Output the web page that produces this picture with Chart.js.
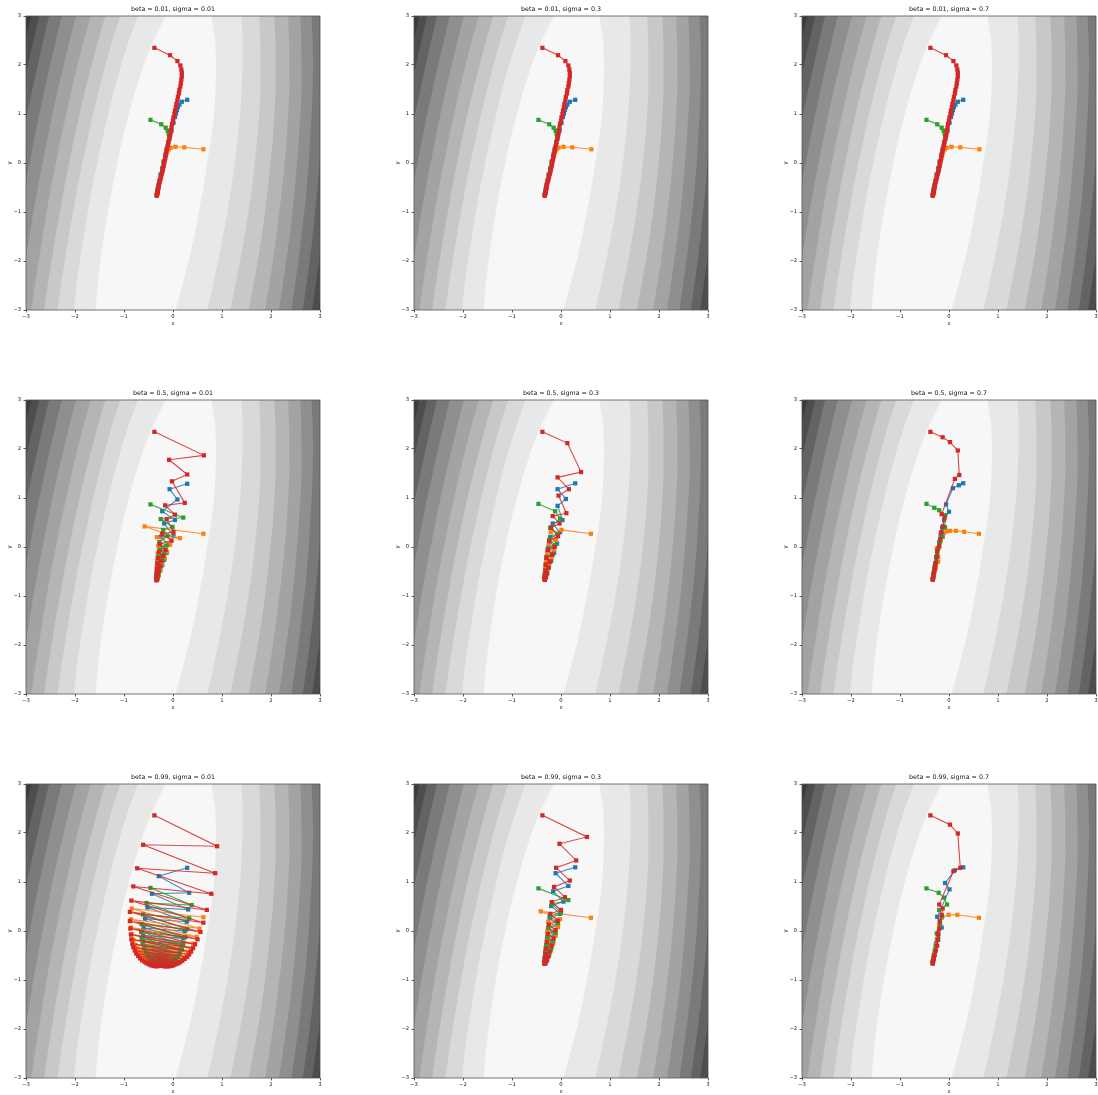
<!DOCTYPE html>
<html>
<head>
<meta charset="utf-8">
<script src="https://cdn.jsdelivr.net/npm/chart.js@4.4.1/dist/chart.umd.min.js"></script>
<style>
  html, body { margin: 0; padding: 0; background: #ffffff; overflow: hidden; width: 1098px; height: 1095px; }
  canvas { position: absolute; }
</style>
</head>
<body>
<script>
// ---- axis ticks ----
const tickValues = [-3, -2, -1, 0, 1, 2, 3];
const tickLabels = ['\u22123', '\u22122', '\u22121', '0', '1', '2', '3'];

// ---- panel titles ----
const betas = ['0.01', '0.5', '0.99'];
const sigmas = ['0.01', '0.3', '0.7'];

// ---- filled contour levels of the loss surface ----
// each boundary is sampled at the y values in bandY; x may run past the frame
const bandY = [3, 2.5, 2, 1.5, 1, 0.5, 0, -0.5, -1, -1.5, -2, -2.5, -3];
const levelColors = ['#f7f7f7', '#e8e8e8', '#d9d9d9', '#c8c8c8', '#b5b5b5', '#a3a3a3',
                     '#8f8f8f', '#7a7a7a', '#636363', '#4d4d4d', '#3b3b3b', '#303030'];
const leftBounds = [
  [-0.15, -0.40, -0.60, -0.76, -0.90, -1.03, -1.14, -1.24, -1.33, -1.41, -1.48, -1.54, -1.58],
  [-0.72, -0.90, -1.06, -1.20, -1.32, -1.44, -1.55, -1.65, -1.74, -1.82, -1.90, -1.97, -2.02],
  [-1.08, -1.24, -1.38, -1.51, -1.63, -1.74, -1.85, -1.95, -2.04, -2.13, -2.21, -2.29, -2.36],
  [-1.38, -1.53, -1.66, -1.79, -1.91, -2.02, -2.12, -2.22, -2.31, -2.40, -2.48, -2.56, -2.63],
  [-1.68, -1.82, -1.95, -2.07, -2.18, -2.29, -2.39, -2.49, -2.58, -2.66, -2.74, -2.82, -2.89],
  [-1.98, -2.11, -2.23, -2.35, -2.46, -2.56, -2.66, -2.76, -2.85, -2.93, -3.01, -3.09, -3.16],
  [-2.27, -2.39, -2.51, -2.62, -2.73, -2.83, -2.93, -3.02, -3.11, -3.20, -3.28, -3.36, -3.43],
  [-2.53, -2.65, -2.76, -2.87, -2.98, -3.08, -3.18, -3.27, -3.36, -3.45, -3.53, -3.61, -3.68],
  [-2.73, -2.85, -2.96, -3.07, -3.18, -3.28, -3.38, -3.47, -3.56, -3.65, -3.73, -3.81, -3.88],
  [-2.89, -3.01, -3.12, -3.23, -3.34, -3.44, -3.54, -3.63, -3.72, -3.81, -3.89, -3.97, -4.04]
];
const rightBounds = [
  [0.78, 0.86, 0.88, 0.87, 0.84, 0.78, 0.70, 0.62, 0.53, 0.43, 0.32, 0.19, 0.05],
  [1.40, 1.42, 1.42, 1.40, 1.37, 1.32, 1.26, 1.19, 1.11, 1.02, 0.92, 0.81, 0.70],
  [1.76, 1.78, 1.79, 1.78, 1.76, 1.72, 1.67, 1.61, 1.54, 1.46, 1.37, 1.27, 1.17],
  [2.07, 2.09, 2.10, 2.09, 2.07, 2.04, 1.99, 1.94, 1.88, 1.81, 1.73, 1.64, 1.55],
  [2.35, 2.37, 2.38, 2.37, 2.35, 2.32, 2.28, 2.23, 2.17, 2.11, 2.04, 1.96, 1.88],
  [2.60, 2.62, 2.63, 2.62, 2.60, 2.57, 2.53, 2.49, 2.44, 2.38, 2.31, 2.24, 2.16],
  [2.83, 2.85, 2.86, 2.85, 2.83, 2.80, 2.77, 2.73, 2.68, 2.62, 2.56, 2.49, 2.42],
  [3.04, 3.06, 3.07, 3.06, 3.05, 3.02, 2.99, 2.95, 2.90, 2.85, 2.79, 2.72, 2.65],
  [3.24, 3.26, 3.27, 3.26, 3.25, 3.22, 3.19, 3.15, 3.10, 3.04, 2.98, 2.91, 2.84],
  [3.43, 3.45, 3.46, 3.45, 3.44, 3.41, 3.37, 3.32, 3.26, 3.19, 3.12, 3.04, 2.97]
];

// ---- optimiser paths: beta = 0.01 (nearly identical for every sigma) ----
const blue_b001 = [[0.29,1.29],[0.18,1.25],[0.13,1.19],[0.10,1.14],[0.08,1.08],[0.06,1.01],[0.04,0.94],[0.01,0.82],[-0.03,0.66],[-0.07,0.50],[-0.11,0.34],[-0.15,0.18],[-0.19,0.03],[-0.22,-0.11],[-0.25,-0.24],[-0.27,-0.36],[-0.29,-0.46],[-0.31,-0.54],[-0.32,-0.60],[-0.33,-0.65]];
const orange_b001 = [[0.62,0.28],[0.23,0.32],[0.05,0.33],[-0.05,0.31],[-0.09,0.28],[-0.12,0.23],[-0.14,0.17],[-0.16,0.09],[-0.19,-0.03],[-0.22,-0.15],[-0.25,-0.27],[-0.27,-0.38],[-0.29,-0.47],[-0.31,-0.55],[-0.32,-0.61],[-0.33,-0.65]];
const green_b001 = [[-0.46,0.88],[-0.24,0.79],[-0.15,0.72],[-0.11,0.66],[-0.09,0.60],[-0.08,0.54],[-0.10,0.42],[-0.13,0.28],[-0.16,0.14],[-0.19,0.01],[-0.22,-0.12],[-0.25,-0.24],[-0.27,-0.35],[-0.29,-0.45],[-0.31,-0.53],[-0.32,-0.60],[-0.33,-0.65]];
const red_b001 = [[-0.38,2.35],[-0.06,2.20],[0.09,2.08],[0.15,1.99],[0.17,1.91],[0.18,1.84],[0.18,1.77],[0.17,1.70],[0.16,1.63],[0.15,1.56],[0.13,1.49],[0.12,1.42],[0.10,1.35],[0.09,1.28],[0.07,1.21],[0.06,1.14],[0.04,1.07],[0.03,1.00],[0.01,0.93],[0.00,0.86],[-0.02,0.80],[-0.03,0.73],[-0.04,0.67],[-0.05,0.61],[-0.06,0.55],[-0.08,0.49],[-0.09,0.43],[-0.10,0.37],[-0.12,0.31],[-0.13,0.26],[-0.14,0.20],[-0.15,0.15],[-0.16,0.10],[-0.17,0.05],[-0.18,0.00],[-0.19,-0.05],[-0.20,-0.09],[-0.21,-0.14],[-0.22,-0.18],[-0.23,-0.22],[-0.24,-0.26],[-0.25,-0.30],[-0.26,-0.34],[-0.27,-0.37],[-0.28,-0.41],[-0.29,-0.44],[-0.29,-0.47],[-0.30,-0.50],[-0.30,-0.53],[-0.31,-0.56],[-0.31,-0.58],[-0.32,-0.61],[-0.32,-0.63],[-0.33,-0.65],[-0.33,-0.67]];

// ---- beta = 0.5 ----
const blue_b05_s001 = [[0.29,1.29],[-0.07,1.18],[0.09,0.97],[-0.22,0.73],[0.04,0.55],[-0.18,0.48],[0.01,0.23],[-0.25,0.21],[-0.08,0.05],[-0.27,-0.02],[-0.13,-0.12],[-0.29,-0.17],[-0.18,-0.26],[-0.31,-0.30],[-0.22,-0.37],[-0.32,-0.41],[-0.26,-0.47],[-0.33,-0.51],[-0.29,-0.56],[-0.33,-0.60],[-0.31,-0.63],[-0.33,-0.66]];
const orange_b05_s001 = [[0.62,0.27],[-0.58,0.42],[0.14,0.18],[-0.33,0.20],[-0.06,0.05],[-0.30,0.02],[-0.12,-0.10],[-0.31,-0.14],[-0.17,-0.23],[-0.32,-0.28],[-0.22,-0.35],[-0.33,-0.40],[-0.26,-0.46],[-0.33,-0.51],[-0.29,-0.56],[-0.33,-0.60],[-0.31,-0.63],[-0.33,-0.66]];
const green_b05_s001 = [[-0.46,0.87],[0.21,0.60],[-0.25,0.57],[-0.01,0.41],[-0.20,0.35],[-0.11,0.23],[-0.28,0.10],[-0.13,0.03],[-0.27,-0.06],[-0.18,-0.14],[-0.30,-0.20],[-0.21,-0.27],[-0.31,-0.33],[-0.25,-0.39],[-0.32,-0.45],[-0.28,-0.50],[-0.33,-0.55],[-0.30,-0.59],[-0.33,-0.63],[-0.32,-0.66]];
const red_b05_s001 = [[-0.38,2.35],[0.63,1.87],[-0.08,1.78],[0.29,1.48],[-0.02,1.34],[0.24,0.90],[-0.16,0.85],[0.04,0.66],[-0.13,0.57],[0.01,0.31],[-0.22,0.27],[-0.03,0.13],[-0.27,0.06],[-0.15,-0.06],[-0.29,-0.10],[-0.20,-0.18],[-0.31,-0.23],[-0.24,-0.29],[-0.32,-0.34],[-0.27,-0.39],[-0.33,-0.44],[-0.29,-0.48],[-0.33,-0.52],[-0.31,-0.56],[-0.34,-0.59],[-0.32,-0.62],[-0.34,-0.64],[-0.33,-0.66],[-0.34,-0.68]];

const blue_b05_s03 = [[0.29,1.30],[-0.07,1.18],[0.10,0.98],[-0.07,0.84],[0.03,0.55],[-0.17,0.48],[-0.02,0.30],[-0.22,0.20],[-0.08,0.07],[-0.26,-0.01],[-0.14,-0.12],[-0.29,-0.19],[-0.20,-0.28],[-0.31,-0.34],[-0.25,-0.41],[-0.32,-0.47],[-0.28,-0.53],[-0.33,-0.58],[-0.31,-0.62],[-0.33,-0.66]];
const orange_b05_s03 = [[0.61,0.27],[0.01,0.35],[-0.21,0.30],[-0.10,0.15],[-0.25,0.06],[-0.14,-0.05],[-0.28,-0.12],[-0.19,-0.21],[-0.30,-0.28],[-0.24,-0.36],[-0.32,-0.42],[-0.28,-0.48],[-0.33,-0.54],[-0.30,-0.59],[-0.33,-0.63],[-0.33,-0.66]];
const green_b05_s03 = [[-0.46,0.88],[-0.12,0.73],[-0.02,0.58],[-0.22,0.39],[-0.07,0.26],[-0.24,0.15],[-0.12,0.04],[-0.27,-0.05],[-0.17,-0.15],[-0.29,-0.22],[-0.22,-0.30],[-0.31,-0.37],[-0.26,-0.43],[-0.32,-0.49],[-0.29,-0.55],[-0.33,-0.59],[-0.32,-0.63],[-0.33,-0.66]];
const red_b05_s03 = [[-0.38,2.35],[0.13,2.12],[0.41,1.53],[-0.07,1.42],[0.16,1.18],[-0.05,1.05],[0.11,0.69],[-0.17,0.63],[-0.03,0.48],[-0.20,0.40],[-0.06,0.22],[-0.24,0.12],[-0.13,0.00],[-0.27,-0.06],[-0.18,-0.16],[-0.30,-0.22],[-0.23,-0.30],[-0.31,-0.36],[-0.26,-0.42],[-0.32,-0.48],[-0.29,-0.53],[-0.33,-0.57],[-0.31,-0.61],[-0.34,-0.64],[-0.33,-0.67]];

const blue_b05_s07 = [[0.29,1.30],[0.20,1.26],[0.08,1.20],[-0.06,0.87],[0.00,0.72],[-0.10,0.55],[-0.14,0.40],[-0.17,0.25],[-0.20,0.10],[-0.23,-0.05],[-0.26,-0.20],[-0.28,-0.33],[-0.30,-0.44],[-0.31,-0.53],[-0.32,-0.60],[-0.33,-0.65]];
const orange_b05_s07 = [[0.61,0.27],[0.31,0.31],[0.14,0.33],[0.02,0.33],[-0.05,0.32],[-0.10,0.29],[-0.14,0.22],[-0.17,0.12],[-0.20,0.00],[-0.25,-0.03],[-0.22,-0.20],[-0.22,-0.30],[-0.27,-0.42],[-0.30,-0.52],[-0.32,-0.59],[-0.33,-0.65]];
const green_b05_s07 = [[-0.46,0.88],[-0.30,0.80],[-0.20,0.75],[-0.08,0.65],[-0.08,0.40],[-0.15,0.30],[-0.13,0.21],[-0.19,0.10],[-0.22,-0.02],[-0.24,-0.14],[-0.26,-0.26],[-0.28,-0.37],[-0.30,-0.46],[-0.31,-0.54],[-0.32,-0.60],[-0.33,-0.65]];
const red_b05_s07 = [[-0.38,2.35],[-0.13,2.24],[0.02,2.14],[0.18,1.97],[0.21,1.47],[0.12,1.39],[-0.15,0.67],[-0.09,0.60],[-0.12,0.42],[-0.16,0.30],[-0.18,0.16],[-0.20,0.02],[-0.24,-0.08],[-0.25,-0.20],[-0.27,-0.33],[-0.29,-0.40],[-0.29,-0.47],[-0.31,-0.53],[-0.32,-0.57],[-0.32,-0.62],[-0.33,-0.65],[-0.33,-0.67]];

// ---- beta = 0.99 ----
const blue_b099_s001 = [[0.29,1.29],[-0.29,1.12],[0.33,0.78],[-0.43,0.76],[0.31,0.44],[-0.52,0.48],[0.28,0.19],[-0.57,0.25],[0.24,0.00],[-0.60,0.06],[0.21,-0.15],[-0.61,-0.09],[0.18,-0.27],[-0.60,-0.21],[0.15,-0.37],[-0.58,-0.32],[0.12,-0.45],[-0.55,-0.41],[0.08,-0.52],[-0.51,-0.48],[0.04,-0.57],[-0.47,-0.54],[0.00,-0.61],[-0.42,-0.59],[-0.04,-0.64],[-0.37,-0.63],[-0.08,-0.66],[-0.32,-0.66],[-0.12,-0.68],[-0.27,-0.68],[-0.16,-0.69],[-0.22,-0.69]];
const orange_b099_s001 = [[0.62,0.28],[-0.84,0.46],[0.54,0.05],[-0.86,0.24],[0.48,-0.12],[-0.86,0.07],[0.41,-0.26],[-0.84,-0.07],[0.36,-0.36],[-0.81,-0.18],[0.31,-0.44],[-0.77,-0.28],[0.27,-0.51],[-0.73,-0.36],[0.22,-0.56],[-0.68,-0.43],[0.17,-0.60],[-0.63,-0.49],[0.13,-0.64],[-0.58,-0.54],[0.08,-0.66],[-0.52,-0.58],[0.03,-0.68],[-0.46,-0.62],[-0.02,-0.70],[-0.40,-0.65],[-0.07,-0.71],[-0.34,-0.68],[-0.12,-0.71],[-0.28,-0.70],[-0.17,-0.71],[-0.23,-0.70]];
const green_b099_s001 = [[-0.46,0.88],[0.38,0.53],[-0.54,0.57],[0.33,0.26],[-0.61,0.34],[0.29,0.04],[-0.64,0.14],[0.25,-0.13],[-0.65,-0.02],[0.21,-0.27],[-0.64,-0.15],[0.18,-0.38],[-0.62,-0.26],[0.14,-0.46],[-0.59,-0.36],[0.10,-0.53],[-0.55,-0.44],[0.06,-0.58],[-0.51,-0.51],[0.02,-0.62],[-0.46,-0.56],[-0.02,-0.65],[-0.41,-0.61],[-0.06,-0.67],[-0.36,-0.64],[-0.10,-0.68],[-0.31,-0.67],[-0.14,-0.69],[-0.26,-0.69],[-0.19,-0.70]];
const red_b099_s001 = [[-0.38,2.36],[0.90,1.73],[-0.61,1.76],[0.86,1.18],[-0.73,1.28],[0.78,0.76],[-0.81,0.91],[0.69,0.43],[-0.85,0.62],[0.62,0.17],[-0.88,0.39],[0.56,-0.02],[-0.88,0.20],[0.50,-0.17],[-0.87,0.05],[0.45,-0.27],[-0.86,-0.07],[0.41,-0.35],[-0.85,-0.17],[0.37,-0.42],[-0.83,-0.26],[0.33,-0.48],[-0.81,-0.33],[0.29,-0.53],[-0.78,-0.40],[0.24,-0.57],[-0.75,-0.46],[0.19,-0.61],[-0.71,-0.51],[0.14,-0.64],[-0.67,-0.56],[0.10,-0.66],[-0.63,-0.60],[0.05,-0.68],[-0.58,-0.63],[0.01,-0.70],[-0.54,-0.66],[-0.03,-0.71],[-0.49,-0.68],[-0.07,-0.72],[-0.45,-0.70],[-0.11,-0.72],[-0.40,-0.71],[-0.15,-0.72],[-0.36,-0.72],[-0.18,-0.72],[-0.32,-0.72],[-0.21,-0.71],[-0.28,-0.71],[-0.24,-0.71]];

const blue_b099_s03 = [[0.29,1.30],[-0.11,1.18],[0.15,0.92],[-0.16,0.81],[0.05,0.60],[-0.20,0.51],[-0.02,0.35],[-0.23,0.26],[-0.07,0.13],[-0.26,0.04],[-0.12,-0.07],[-0.28,-0.15],[-0.17,-0.24],[-0.30,-0.31],[-0.21,-0.38],[-0.32,-0.44],[-0.25,-0.50],[-0.33,-0.55],[-0.29,-0.59],[-0.33,-0.63],[-0.32,-0.66]];
const orange_b099_s03 = [[0.61,0.27],[-0.41,0.40],[-0.02,0.24],[-0.26,0.19],[-0.06,0.08],[-0.28,0.00],[-0.11,-0.10],[-0.29,-0.17],[-0.16,-0.26],[-0.31,-0.33],[-0.21,-0.40],[-0.32,-0.46],[-0.25,-0.51],[-0.33,-0.56],[-0.29,-0.60],[-0.34,-0.64],[-0.33,-0.66]];
const green_b099_s03 = [[-0.46,0.87],[0.15,0.63],[-0.18,0.55],[0.00,0.38],[-0.23,0.30],[-0.06,0.16],[-0.26,0.07],[-0.11,-0.04],[-0.28,-0.12],[-0.16,-0.21],[-0.30,-0.28],[-0.20,-0.36],[-0.32,-0.42],[-0.24,-0.48],[-0.33,-0.53],[-0.28,-0.58],[-0.33,-0.62],[-0.32,-0.65]];
const red_b099_s03 = [[-0.38,2.36],[0.53,1.92],[-0.03,1.78],[0.31,1.44],[-0.10,1.29],[0.18,1.03],[-0.14,0.90],[0.08,0.69],[-0.19,0.59],[0.00,0.43],[-0.22,0.35],[-0.07,0.21],[-0.25,0.13],[-0.11,0.02],[-0.27,-0.06],[-0.15,-0.15],[-0.29,-0.22],[-0.19,-0.30],[-0.31,-0.36],[-0.23,-0.42],[-0.32,-0.47],[-0.26,-0.52],[-0.33,-0.56],[-0.29,-0.60],[-0.34,-0.63],[-0.32,-0.65],[-0.34,-0.67]];

const blue_b099_s07 = [[0.29,1.30],[0.12,1.24],[-0.08,0.98],[0.01,0.85],[-0.24,0.29],[-0.15,0.07],[-0.22,-0.10],[-0.26,-0.25],[-0.28,-0.38],[-0.30,-0.48],[-0.32,-0.56],[-0.33,-0.62],[-0.33,-0.66]];
const orange_b099_s07 = [[0.61,0.27],[0.17,0.33],[-0.01,0.33],[-0.15,0.27],[-0.20,0.12],[-0.22,-0.02],[-0.25,-0.16],[-0.27,-0.29],[-0.29,-0.40],[-0.31,-0.50],[-0.32,-0.57],[-0.33,-0.62],[-0.33,-0.66]];
const green_b099_s07 = [[-0.46,0.87],[-0.21,0.78],[-0.10,0.68],[-0.04,0.54],[-0.20,0.43],[-0.14,0.30],[-0.18,0.15],[-0.25,-0.05],[-0.22,-0.18],[-0.27,-0.30],[-0.29,-0.42],[-0.31,-0.51],[-0.32,-0.58],[-0.33,-0.63],[-0.33,-0.66]];
const red_b099_s07 = [[-0.38,2.36],[0.02,2.17],[0.18,1.99],[0.23,1.29],[0.09,1.22],[-0.20,0.54],[-0.13,0.46],[-0.15,0.33],[-0.19,0.20],[-0.20,0.05],[-0.22,-0.06],[-0.23,-0.18],[-0.24,-0.30],[-0.27,-0.40],[-0.29,-0.49],[-0.31,-0.56],[-0.32,-0.61],[-0.33,-0.64],[-0.33,-0.66]];

// series colours (drawn blue, orange, green, red - red ends on top)
const seriesColors = ['#1f77b4', '#ff7f0e', '#2ca02c', '#d62728'];

// grid of runs: rows = beta, columns = sigma
const runs = [
  [[blue_b001, orange_b001, green_b001, red_b001],
   [blue_b001, orange_b001, green_b001, red_b001],
   [blue_b001, orange_b001, green_b001, red_b001]],
  [[blue_b05_s001, orange_b05_s001, green_b05_s001, red_b05_s001],
   [blue_b05_s03, orange_b05_s03, green_b05_s03, red_b05_s03],
   [blue_b05_s07, orange_b05_s07, green_b05_s07, red_b05_s07]],
  [[blue_b099_s001, orange_b099_s001, green_b099_s001, red_b099_s001],
   [blue_b099_s03, orange_b099_s03, green_b099_s03, red_b099_s03],
   [blue_b099_s07, orange_b099_s07, green_b099_s07, red_b099_s07]]
];

// ---- layout of the 3x3 grid (plot-area corners in page pixels) ----
const colLeft = [26, 414, 802];
const rowTop = [16, 400, 784];
const plotSize = 294;
const yAxisWidth = 26, titleBlock = 16, xAxisHeight = 20, padRight = 8;

Chart.defaults.font.family = "'DejaVu Sans', sans-serif";
Chart.defaults.color = '#222';

function rgba(hex, a) {
  const n = parseInt(hex.slice(1), 16);
  return `rgba(${(n >> 16) & 255},${(n >> 8) & 255},${n & 255},${a})`;
}

function contourDatasets() {
  const base = {
    showLine: true, borderWidth: 0, pointRadius: 0, pointHoverRadius: 0,
    fill: 'shape', tension: 0
  };
  const sets = [Object.assign({}, base, {
    data: [{x: -4, y: -4}, {x: 4, y: -4}, {x: 4, y: 4}, {x: -4, y: 4}],
    backgroundColor: levelColors[0], borderColor: levelColors[0], order: 1000
  })];
  const last = bandY.length - 1;
  leftBounds.forEach((xs, i) => {
    const pts = xs.map((x, j) => ({x, y: bandY[j]}));
    pts.push({x: -4, y: bandY[last]}, {x: -4, y: bandY[0]});
    sets.push(Object.assign({}, base, {
      data: pts, backgroundColor: levelColors[i + 1], borderColor: levelColors[i + 1], order: 999 - i
    }));
  });
  rightBounds.forEach((xs, i) => {
    const pts = xs.map((x, j) => ({x, y: bandY[j]}));
    pts.push({x: 4, y: bandY[last]}, {x: 4, y: bandY[0]});
    sets.push(Object.assign({}, base, {
      data: pts, backgroundColor: levelColors[i + 1], borderColor: levelColors[i + 1], order: 999 - i
    }));
  });
  return sets;
}

function pathDatasets(series) {
  return series.map((pts, i) => ({
    data: pts.map(([x, y]) => ({x, y})),
    showLine: true,
    fill: false,
    borderColor: rgba(seriesColors[i], 0.85),
    borderWidth: 1.1,
    pointStyle: 'rect',
    pointRadius: 3,
    pointHoverRadius: 3,
    pointBorderWidth: 0,
    pointBackgroundColor: seriesColors[i],
    pointBorderColor: seriesColors[i],
    order: 4 - i
  }));
}

const framePlugin = {
  id: 'frame',
  afterDatasetsDraw(chart) {
    const {ctx, chartArea: a} = chart;
    ctx.save();
    ctx.strokeStyle = '#555';
    ctx.lineWidth = 0.8;
    ctx.strokeRect(a.left, a.top, a.right - a.left, a.bottom - a.top);
    ctx.restore();
  }
};

function axisTick(value) {
  const k = tickValues.indexOf(Math.round(value));
  return k >= 0 ? tickLabels[k] : '';
}

function makePanel(r, c) {
  const canvas = document.createElement('canvas');
  const w = yAxisWidth + plotSize + padRight;
  const h = titleBlock + plotSize + xAxisHeight;
  canvas.width = w; canvas.height = h;
  canvas.style.width = w + 'px'; canvas.style.height = h + 'px';
  canvas.style.left = (colLeft[c] - yAxisWidth) + 'px';
  canvas.style.top = (rowTop[r] - titleBlock) + 'px';
  document.body.appendChild(canvas);

  const tickFont = {size: 5.3};
  new Chart(canvas, {
    type: 'scatter',
    data: {datasets: contourDatasets().concat(pathDatasets(runs[r][c]))},
    options: {
      responsive: false,
      animation: false,
      devicePixelRatio: 1,
      events: [],
      layout: {padding: {left: 0, right: padRight, top: 0, bottom: 0}},
      plugins: {
        legend: {display: false},
        tooltip: {enabled: false},
        title: {
          display: true,
          fullSize: false,
          text: `beta = ${betas[r]}, sigma = ${sigmas[c]}`,
          color: '#111',
          font: {size: 6.3, weight: 'normal', lineHeight: 1.2},
          padding: {top: 16 - 6.3 * 1.2 - 3, bottom: 3}
        }
      },
      scales: {
        x: {
          type: 'linear', position: 'bottom', min: -3, max: 3,
          ticks: {stepSize: 1, autoSkip: false, maxRotation: 0, padding: 0.5,
                  font: tickFont, color: '#222', callback: axisTick},
          grid: {display: true, drawOnChartArea: false, drawTicks: true,
                 tickLength: 2.5, tickColor: '#333', tickWidth: 0.8},
          border: {display: false},
          title: {display: true, text: 'x', color: '#222',
                  font: {size: 5.3, lineHeight: 1.2}, padding: {top: 0, bottom: 3.4}},
          afterFit(scale) { scale.height = xAxisHeight; }
        },
        y: {
          type: 'linear', position: 'left', min: -3, max: 3,
          ticks: {stepSize: 1, autoSkip: false, padding: 2.3,
                  font: tickFont, color: '#222', callback: axisTick},
          grid: {display: true, drawOnChartArea: false, drawTicks: true,
                 tickLength: 2.5, tickColor: '#333', tickWidth: 0.8},
          border: {display: false},
          title: {display: true, text: 'y', color: '#222',
                  font: {size: 5.3, lineHeight: 1.2}, padding: {top: 6.4, bottom: 0}},
          afterFit(scale) { scale.width = yAxisWidth; }
        }
      }
    },
    plugins: [framePlugin]
  });
}

for (let r = 0; r < 3; r++) {
  for (let c = 0; c < 3; c++) makePanel(r, c);
}
</script>
</body>
</html>
